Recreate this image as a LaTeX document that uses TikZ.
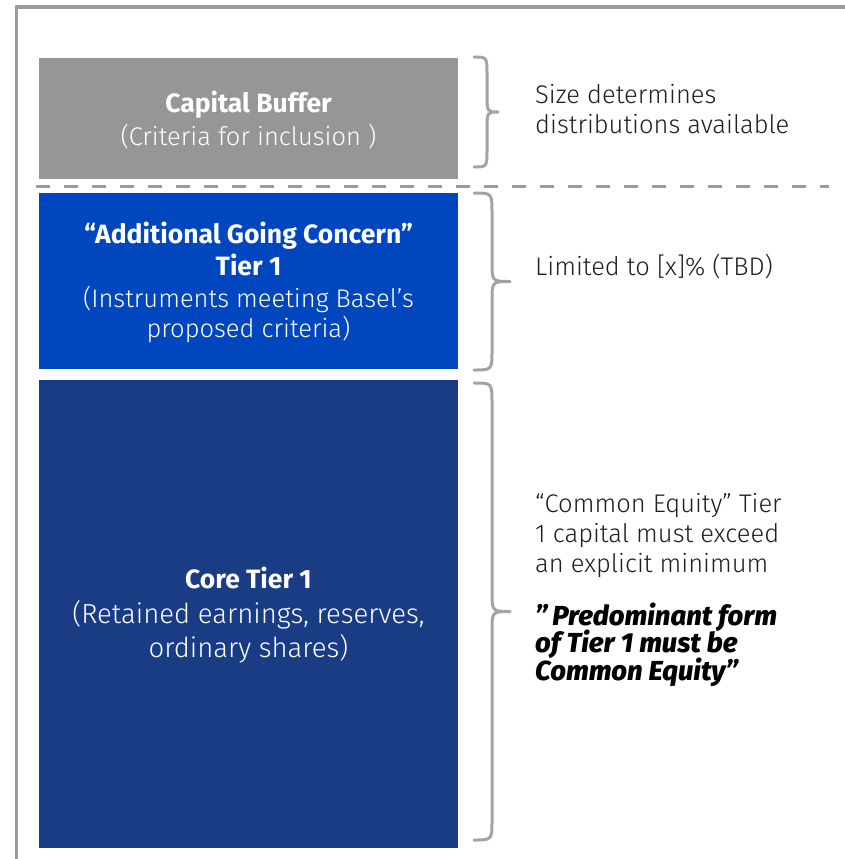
\documentclass[tikz,border=0pt]{standalone}
\usepackage{fontspec}
\setmainfont{Fira Sans}[UprightFont=* Light, ItalicFont=* Light Italic, BoldFont=* Bold, BoldItalicFont=* ExtraBold Italic]

\definecolor{bufgray}{HTML}{969696}
\definecolor{addblue}{HTML}{0047BF}
\definecolor{coreblue}{HTML}{1A3C84}
\definecolor{framegray}{HTML}{9B9B9B}
\definecolor{bracegray}{HTML}{A3A3A3}
\definecolor{txtdark}{HTML}{1E1E1E}

% right-hand curly brace: end x, top y, bottom y, spine x, tip x, corner radius
\newcommand{\capbrace}[6]{%
  \draw[bracepath] (#1,#2) .. controls (#4,#2) .. (#4,{#2+#6})
    -- (#4,{(#2+#3)/2-#6}) .. controls (#4,{(#2+#3)/2}) .. (#5,{(#2+#3)/2})
    .. controls (#4,{(#2+#3)/2}) .. (#4,{(#2+#3)/2+#6})
    -- (#4,{#3-#6}) .. controls (#4,#3) .. (#1,#3);}

\begin{document}
\begin{tikzpicture}[x=1pt,y=-1pt,
  tierbox/.style={anchor=north west, minimum width=419pt, inner sep=0pt, outer sep=0pt, draw=none},
  boxline/.style={anchor=base, text=white, inner sep=0pt},
  sideline/.style={anchor=base west, text=txtdark, inner sep=0pt},
  bracepath/.style={draw=bracegray, line width=3pt, line cap=round, line join=round},
  regtext/.style={font=\fontsize{25.5}{30}\selectfont},
  headtext/.style={font=\fontsize{26.5}{30}\selectfont\bfseries},
  coretext/.style={font=\fontsize{27.5}{30}\selectfont},
  keytext/.style={font=\fontsize{27.5}{30}\selectfont\bfseries\itshape, text=black},
]
\useasboundingbox (0,0) rectangle (845,859);

% open frame along the top and left edges
\draw[framegray, line width=3.5pt] (845,7) -- (16.5,7) -- (16.5,859);

% tier blocks
\node[tierbox, fill=bufgray, minimum height=121pt] (buffer) at (39,58) {};
\node[tierbox, fill=addblue, minimum height=176pt] (addt1) at (39,193) {};
\node[tierbox, fill=coreblue, minimum height=468pt] (core) at (39,380) {};

% dashed separator below the buffer
\draw[framegray, line width=3pt, dash pattern=on 14.5pt off 13.5pt] (35.5,186) -- (829,186);

% block labels
\node[boxline, headtext] (buf1) at (248.5,112) {Capital Buffer};
\node[boxline, regtext] (buf2) at (248.5,145) {(Criteria for inclusion )};

\node[boxline, headtext] (add1) at (248.5,243) {“Additional Going Concern”};
\node[boxline, headtext] (add2) at (248.5,275) {Tier 1};
\node[boxline, regtext] (add3) at (248.5,307) {(Instruments meeting Basel’s};
\node[boxline, regtext] (add4) at (248.5,337) {proposed criteria)};

\node[boxline, headtext] (core1) at (248.5,588) {Core Tier 1};
\node[boxline, coretext] (core2) at (248.5,623) {(Retained earnings, reserves,};
\node[boxline, coretext] (core3) at (248.5,657) {ordinary shares)};

% braces
\capbrace{474}{57}{167}{487}{498}{18}
\capbrace{474}{193}{370}{492}{510}{20}
\capbrace{474}{383}{840}{492}{510}{20}

% side notes
\node[sideline, regtext] (sz1) at (535,103) {Size determines};
\node[sideline, regtext] (sz2) at (535,133) {distributions available};

\node[sideline, regtext] (lim) at (535,275) {Limited to [x]\% (TBD)};

\node[sideline, regtext] (ce1) at (535,512) {“Common Equity” Tier};
\node[sideline, regtext] (ce2) at (535,542) {1 capital must exceed};
\node[sideline, regtext] (ce3) at (535,572) {an explicit minimum};

\node[sideline, keytext] (pf1) at (535,625) {"\,Predominant form};
\node[sideline, keytext] (pf2) at (535,652) {of Tier 1 must be};
\node[sideline, keytext] (pf3) at (535,680) {Common Equity”};
\end{tikzpicture}
\end{document}
